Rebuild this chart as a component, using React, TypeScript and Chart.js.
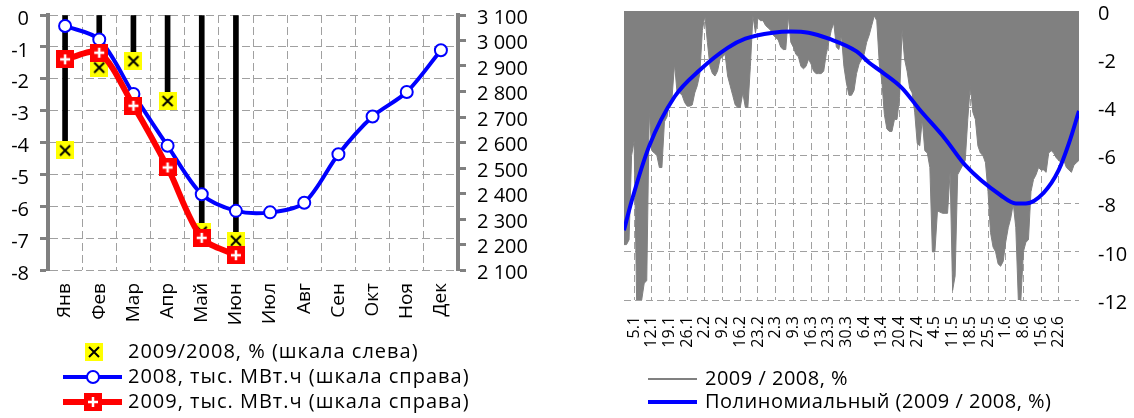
import React, { useEffect, useRef } from 'react';
import { Chart, registerables } from 'chart.js';
Chart.register(...registerables);

const FONT = '"Open Sans", "Noto Sans", sans-serif';
Chart.defaults.font.family = FONT;
Chart.defaults.color = '#000';

// ---------- Left chart data ----------
const months = ['Янв', 'Фев', 'Мар', 'Апр', 'Май', 'Июн', 'Июл', 'Авг', 'Сен', 'Окт', 'Ноя', 'Дек'];
const ratio2009to2008 = [-4.25, -1.65, -1.45, -2.7, -6.8, -7.08, null, null, null, null, null, null];
const output2008 = [3057, 3004, 2790, 2587, 2397, 2332, 2326, 2364, 2554, 2702, 2798, 2962];
const output2009 = [2926, 2952, 2744, 2502, 2226, 2158, null, null, null, null, null, null];
const leftLegendLabels = [
  '2009/2008, % (шкала слева)',
  '2008, тыс. МВт.ч (шкала справа)',
  '2009, тыс. МВт.ч (шкала справа)',
];

// ---------- Right chart data ----------
// daily change 2009/2008, %, day 0 = 1 January
const dailyChange = [
  -9.7, -9.7, -9.5, -6.0, -5.4, -12, -12, -12, -11.3, -11.2,
  -4.2, -5.8, -5.9, -6.0, -6.5, -6.5, -4.6, -4.4, -3.8, -3.6,
  -2.2, -3.4, -3.4, -3.5, -3.8, -3.95, -3.95, -3.9, -3.4, -3.1,
  -2.6, -0.8, -0.2, -1.3, -2.3, -2.6, -2.7, -2.5, -2.0, -1.9,
  -1.8, -2.7, -3.1, -3.5, -3.9, -4.0, -4.0, -3.4, -4.0, -4.0,
  -2.3, -0.2, -0.9, -0.3, -0.4, -0.4, -0.6, -0.7, -0.8, -1.0,
  -1.1, -1.2, -1.5, -1.6, -1.6, -0.2, -1.3, -1.5, -1.8, -1.9,
  -2.3, -2.4, -2.3, -2.0, -2.2, -2.5, -2.6, -2.6, -2.6, -2.5,
  -1.8, -1.3, -0.8, -0.5, -1.5, -1.6, -1.0, -2.3, -3.0, -3.5,
  -3.5, -3.3, -2.6, -2.2, -2.0, -1.8, -1.3, -1.0, -0.6, -0.2,
  -0.4, -2.2, -2.9, -4.3, -4.9, -5.0, -5.0, -4.5, -4.5, -3.6,
  -0.8, -2.0, -2.5, -3.2, -3.4, -4.2, -5.5, -5.6, -4.5, -5.8,
  -5.9, -6.5, -10.0, -10.0, -8.3, -8.35, -8.4, -8.4, -8.4, -6.7,
  -11.6, -11.0, -6.8, -6.6, -6.4, -6.2, -4.5, -3.1, -4.2, -4.5,
  -5.6, -5.9, -6.0, -6.3, -7.5, -9.2, -9.8, -10.0, -10.5, -10.6,
  -10.4, -9.6, -9.0, -8.6, -8.0, -9.0, -12, -12, -10.0, -9.6,
  -9.5, -7.5, -7.0, -6.8, -6.5, -6.6, -6.6, -6.7, -5.9, -5.8,
  -5.9, -6.1, -6.2, -6.3, -6.2, -6.5, -6.6, -6.7, -6.4, -6.3,
  -6.2,
];
const trendDays = [0, 3, 10, 20, 30, 41, 48, 59, 66, 73, 81, 92, 97, 102, 110, 117, 127, 135, 149, 155, 159, 166, 172, 176, 180];
const trendValues = [-9.1, -7.9, -5.6, -3.56, -2.45, -1.53, -1.15, -0.9, -0.85, -0.9, -1.15, -1.68, -2.15, -2.53, -3.2, -4.1, -5.3, -6.4, -7.65, -7.99, -7.99, -7.55, -6.6, -5.5, -4.15];
const weekTickDays = [4, 11, 18, 25, 32, 39, 46, 53, 60, 67, 74, 81, 88, 95, 102, 109, 116, 123, 130, 137, 144, 151, 158, 165, 172];
const weekTickLabels = ['5.1', '12.1', '19.1', '26.1', '2.2', '9.2', '16.2', '23.2', '2.3', '9.3', '16.3', '23.3', '30.3', '6.4', '13.4', '20.4', '27.4', '4.5', '11.5', '18.5', '25.5', '1.6', '8.6', '15.6', '22.6'];
const rightLegendLabels = ['2009 / 2008, %', 'Полиномиальный (2009 / 2008, %)'];

const GRID = '#a0a0a0';
const AXIS = '#808080';

function makeYellowX(size: number) {
  const c = document.createElement('canvas');
  c.width = size; c.height = size;
  const g = c.getContext('2d')!;
  g.fillStyle = '#FFFF00';
  g.fillRect(0, 0, size, size);
  g.strokeStyle = '#000';
  g.lineWidth = 2;
  g.beginPath();
  g.moveTo(4, 4); g.lineTo(size - 4, size - 4);
  g.moveTo(size - 4, 4); g.lineTo(4, size - 4);
  g.stroke();
  return c;
}
function makeRedPlus(size: number) {
  const c = document.createElement('canvas');
  c.width = size; c.height = size;
  const g = c.getContext('2d')!;
  g.fillStyle = '#FF0000';
  g.fillRect(0, 0, size, size);
  g.strokeStyle = '#fff';
  g.lineWidth = 2.5;
  const m = size / 2;
  g.beginPath();
  g.moveTo(4, m); g.lineTo(size - 4, m);
  g.moveTo(m, 4); g.lineTo(m, size - 4);
  g.stroke();
  return c;
}

const fmtThousands = (v: number) => String(v).replace(/\B(?=(\d{3})+(?!\d))/g, ' ');

const fixSize = (w: number | null, h: number | null) => (s: any) => {
  if (w !== null) s.width = w;
  if (h !== null) s.height = h;
  s.paddingTop = 0; s.paddingBottom = 0; s.paddingLeft = 0; s.paddingRight = 0;
};

export default function App() {
  const leftRef = useRef<HTMLCanvasElement>(null);
  const rightRef = useRef<HTMLCanvasElement>(null);

  useEffect(() => {
    const yellowX = makeYellowX(18);
    const redPlus = makeRedPlus(18);

    const leftLegend = {
      id: 'leftLegend',
      afterDraw(chart: any) {
        const ctx = chart.ctx as CanvasRenderingContext2D;
        ctx.save();
        ctx.font = '20px ' + FONT;
        (ctx as any).letterSpacing = '1px';
        ctx.textBaseline = 'middle';
        ctx.fillStyle = '#000';
        const rows = [352, 377, 402];
        ctx.drawImage(yellowX, 94 - 9, rows[0] - 9);
        ctx.fillText(leftLegendLabels[0], 128, rows[0]);
        ctx.strokeStyle = '#0000FF';
        ctx.lineWidth = 4;
        ctx.beginPath(); ctx.moveTo(63, rows[1]); ctx.lineTo(122, rows[1]); ctx.stroke();
        ctx.fillStyle = '#fff';
        ctx.lineWidth = 2;
        ctx.beginPath(); ctx.arc(93, rows[1], 6, 0, Math.PI * 2); ctx.fill(); ctx.stroke();
        ctx.fillStyle = '#000';
        ctx.fillText(leftLegendLabels[1], 128, rows[1]);
        ctx.strokeStyle = '#FF0000';
        ctx.lineWidth = 6;
        ctx.beginPath(); ctx.moveTo(63, rows[2]); ctx.lineTo(122, rows[2]); ctx.stroke();
        ctx.drawImage(redPlus, 93 - 9, rows[2] - 9);
        ctx.fillText(leftLegendLabels[2], 128, rows[2]);
        ctx.restore();
      },
    };

    const rightLegend = {
      id: 'rightLegend',
      afterDraw(chart: any) {
        const ctx = chart.ctx as CanvasRenderingContext2D;
        ctx.save();
        ctx.font = '20px ' + FONT;
        (ctx as any).letterSpacing = '0.5px';
        ctx.textBaseline = 'middle';
        ctx.fillStyle = '#000';
        const rows = [379, 402];
        ctx.strokeStyle = '#808080';
        ctx.lineWidth = 2;
        ctx.beginPath(); ctx.moveTo(81, rows[0]); ctx.lineTo(130, rows[0]); ctx.stroke();
        ctx.fillText(rightLegendLabels[0], 138, rows[0]);
        ctx.strokeStyle = '#0000FF';
        ctx.lineWidth = 4;
        ctx.beginPath(); ctx.moveTo(81, rows[1]); ctx.lineTo(130, rows[1]); ctx.stroke();
        ctx.fillText(rightLegendLabels[1], 138, rows[1]);
        ctx.restore();
      },
    };

    const left = new Chart(leftRef.current!, {
      type: 'line',
      data: {
        labels: months,
        datasets: [
          {
            type: 'bar',
            label: 'bars',
            data: ratio2009to2008 as any,
            backgroundColor: '#000',
            barThickness: 5,
            yAxisID: 'y',
            order: 4,
          } as any,
          {
            type: 'line',
            label: leftLegendLabels[0],
            data: ratio2009to2008 as any,
            showLine: false,
            pointStyle: yellowX,
            pointRadius: 9,
            yAxisID: 'y',
            order: 3,
          },
          {
            type: 'line',
            label: leftLegendLabels[1],
            data: output2008,
            borderColor: '#0000FF',
            borderWidth: 4,
            tension: 0.3,
            pointStyle: 'circle',
            pointRadius: 6,
            pointBackgroundColor: '#fff',
            pointBorderColor: '#0000FF',
            pointBorderWidth: 2,
            yAxisID: 'y1',
            order: 2,
          },
          {
            type: 'line',
            label: leftLegendLabels[2],
            data: output2009 as any,
            borderColor: '#FF0000',
            borderWidth: 6,
            tension: 0.3,
            pointStyle: redPlus,
            pointRadius: 9,
            yAxisID: 'y1',
            order: 1,
          },
        ],
      },
      options: {
        animation: false,
        responsive: false,
        layout: { padding: { top: 14, left: 0, right: 0, bottom: 0 } },
        plugins: { legend: { display: false }, tooltip: { enabled: false } },
        scales: {
          x: {
            type: 'category',
            offset: true,
            afterFit: fixSize(null, 148),
            grid: { color: GRID, lineWidth: 1, drawTicks: false, offset: true },
            border: { display: false, dash: [8, 4] },
            ticks: { autoSkip: false, minRotation: 90, maxRotation: 90, padding: 13, font: { size: 19 }, color: '#000' },
          },
          y: {
            position: 'left',
            min: -8,
            max: 0,
            afterFit: fixSize(48, null),
            ticks: { stepSize: 1, padding: 11, font: { size: 20, lineHeight: 1 }, color: '#000', labelOffset: 4 },
            grid: { color: GRID, lineWidth: 1, drawTicks: true, tickLength: 8, tickWidth: 3, tickColor: AXIS },
            border: { display: true, color: AXIS, width: 4, dash: [8, 4] },
          },
          y1: {
            position: 'right',
            min: 2100,
            max: 3100,
            afterFit: fixSize(102, null),
            ticks: { stepSize: 100, padding: 11, font: { size: 20, lineHeight: 1 }, color: '#000', labelOffset: 3, callback: (v: any) => fmtThousands(v) },
            grid: { drawOnChartArea: false, drawTicks: true, tickLength: 8, tickWidth: 3, tickColor: AXIS },
            border: { display: true, color: AXIS, width: 4 },
          },
        },
      } as any,
      plugins: [leftLegend],
    });

    const right = new Chart(rightRef.current!, {
      type: 'line',
      data: {
        datasets: [
          {
            label: rightLegendLabels[0],
            data: dailyChange.map((v, i) => ({ x: i, y: v })),
            borderColor: '#808080',
            backgroundColor: '#808080',
            borderWidth: 1,
            fill: 'end',
            pointRadius: 0,
            tension: 0,
            order: 2,
          },
          {
            label: rightLegendLabels[1],
            data: trendDays.map((d, i) => ({ x: d, y: trendValues[i] })),
            borderColor: '#0000FF',
            borderWidth: 4,
            fill: false,
            pointRadius: 0,
            cubicInterpolationMode: 'monotone',
            order: 1,
          },
        ],
      },
      options: {
        animation: false,
        responsive: false,
        layout: { padding: { top: 11, left: 57, right: 0, bottom: 0 } },
        plugins: { legend: { display: false }, tooltip: { enabled: false } },
        scales: {
          x: {
            type: 'linear',
            min: 0,
            max: 180,
            afterBuildTicks: (s: any) => { s.ticks = weekTickDays.map((v) => ({ value: v })); },
            afterFit: fixSize(null, 118),
            grid: { color: GRID, lineWidth: 1, drawTicks: false },
            border: { display: false, dash: [7, 4] },
            ticks: {
              autoSkip: false, minRotation: 90, maxRotation: 90, padding: 16,
              font: { size: 16 }, color: '#000',
              callback: (_v: any, i: number) => weekTickLabels[i],
            },
          },
          y: {
            position: 'right',
            min: -12,
            max: 0,
            afterFit: fixSize(55, null),
            ticks: { stepSize: 2, padding: 19, font: { size: 20, lineHeight: 1 }, color: '#000', labelOffset: 3 },
            grid: { color: GRID, lineWidth: 1, drawTicks: false },
            border: { display: false, dash: [7, 4] },
          },
        },
      } as any,
      plugins: [rightLegend],
    });

    return () => { left.destroy(); right.destroy(); };
  }, []);

  return (
    <div style={{ position: 'absolute', left: 0, top: 0, width: 1134, height: 418, background: '#fff', overflow: 'hidden' }}>
      <canvas ref={leftRef} width={560} height={418} style={{ position: 'absolute', left: 0, top: 0, width: 560, height: 418 }} />
      <canvas ref={rightRef} width={567} height={418} style={{ position: 'absolute', left: 567, top: 0, width: 567, height: 418 }} />
    </div>
  );
}
